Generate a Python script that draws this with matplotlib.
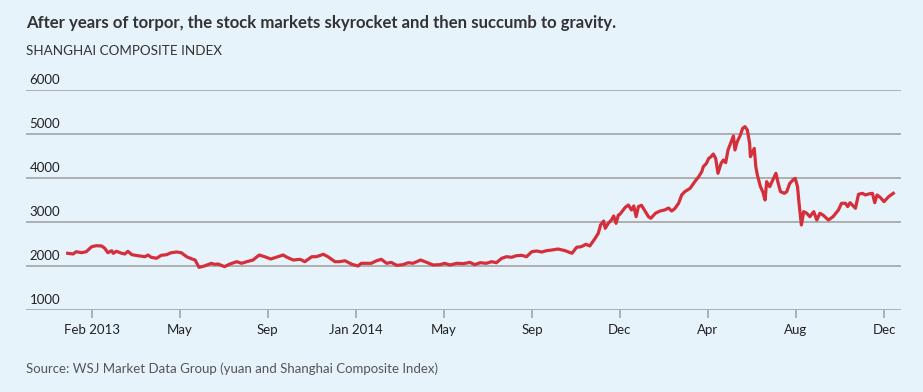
import numpy as np
import pandas as pd
import matplotlib
matplotlib.use("Agg")
import matplotlib.pyplot as plt

# Shanghai Composite Index
# days counted from the first session shown (4 Jan 2013)
start = pd.Timestamp("2013-01-04")
days = [0, 7, 11, 18, 24, 31, 37, 44, 48, 52, 57, 59, 63, 70, 74, 78, 83, 91, 100, 104,
        108, 115, 121, 128, 134, 141, 147, 154, 160, 165, 170, 177, 186, 190, 195, 203, 210, 219,
        225, 232, 240, 248, 255, 263, 272, 279, 284, 292, 301, 307, 316, 322, 331, 337, 346,
        352, 359, 368, 376, 380, 393, 400, 406, 413, 419, 426, 434, 441, 447, 457, 465, 473,
        482, 488, 495, 504, 512, 521, 527, 534, 542, 549, 555, 562, 568, 575, 581, 588, 594,
        601, 607, 614, 620, 627, 635, 644, 653, 659, 665, 671, 676, 683, 687, 690, 694, 696,
        700, 704, 707, 710, 713, 715, 722, 726, 730, 733, 736, 739, 743, 748, 752, 755, 761,
        767, 773, 778, 782, 786, 791, 795, 799, 806, 812, 817, 821, 823, 827, 830, 833, 836,
        839, 842, 846, 849, 852, 855, 860, 862, 864, 867, 871, 874, 877, 880, 883, 884, 887,
        889, 891, 893, 897, 900, 903, 905, 909, 913, 917, 920, 923, 928, 931, 935, 940, 942,
        945, 947, 950, 953, 957, 961, 966, 970, 974, 978, 985, 991, 998, 1002, 1007, 1010,
        1013, 1020, 1024, 1029, 1033, 1037, 1042, 1045, 1048, 1052, 1057, 1063, 1069]
index = [2289, 2273, 2325, 2302, 2325, 2439, 2461, 2455, 2402, 2302, 2348, 2289, 2334, 2289,
         2273, 2334, 2257, 2234, 2211, 2250, 2198, 2175, 2243, 2257, 2302, 2318, 2302, 2211,
         2166, 2136, 1970, 2000, 2061, 2038, 2045, 1985, 2045, 2098, 2061, 2098, 2136, 2250,
         2211, 2159, 2211, 2250, 2198, 2136, 2152, 2098, 2211, 2211, 2266, 2211, 2098, 2098,
         2120, 2038, 2000, 2061, 2061, 2120, 2152, 2061, 2082, 2015, 2030, 2075, 2061, 2136,
         2082, 2023, 2030, 2061, 2023, 2061, 2053, 2082, 2030, 2075, 2061, 2098, 2075, 2175,
         2211, 2198, 2234, 2243, 2211, 2325, 2341, 2318, 2348, 2364, 2386, 2348, 2289, 2425,
         2439, 2493, 2455, 2630, 2743, 2932, 3023, 2857, 2970, 3045, 3136, 2970, 3159, 3175,
         3334, 3386, 3273, 3364, 3121, 3350, 3380, 3236, 3121, 3084, 3198, 3250, 3273, 3318,
         3250, 3303, 3425, 3614, 3689, 3766, 3917, 4030, 4143, 4257, 4332, 4445, 4484, 4545,
         4445, 4107, 4332, 4409, 4348, 4636, 4864, 4955, 4636, 4827, 4977, 5129, 5167, 5091,
         4788, 4484, 4598, 4673, 4257, 4068, 3803, 3689, 3500, 3917, 3803, 3955, 4107, 3879,
         3689, 3652, 3689, 3879, 3970, 3992, 3803, 3425, 2932, 3236, 3198, 3121, 3236, 3045,
         3198, 3159, 3045, 3121, 3273, 3425, 3425, 3350, 3439, 3312, 3630, 3652, 3614, 3636,
         3652, 3439, 3614, 3561, 3463, 3576, 3652]

tick_days = [31, 145, 259, 373, 487, 601, 715, 829, 943, 1057]
tick_labels = ["Feb 2013", "May", "Sep", "Jan 2014", "May", "Sep", "Dec", "Apr", "Aug", "Dec"]
y_ticks = [1000, 2000, 3000, 4000, 5000, 6000]

bg = "#e7f3fb"
grid_col = "#a3a3a3"
red = "#d42f3b"

plt.rcParams["font.family"] = ["Lato", "DejaVu Sans"]

dates = start + pd.to_timedelta(days, unit="D")
tick_dates = start + pd.to_timedelta(tick_days, unit="D")

fig = plt.figure(figsize=(9.23, 3.92), dpi=100, facecolor=bg)
ax = fig.add_axes([26 / 923, 1 - 310 / 392, 875 / 923, 220 / 392])
ax.set_facecolor(bg)

for v in y_ticks:
    ax.axhline(v, color=grid_col, lw=1.2, zorder=1)
    ax.text(0.004, v + 90, str(v), transform=ax.get_yaxis_transform(),
            ha="left", va="bottom", fontsize=9.5, color="#222222")

ax.plot(dates, index, color=red, lw=2.3, solid_joinstyle="round", zorder=3)

ax.set_ylim(1000, 6000)
ax.set_xlim(start - pd.Timedelta(days=54), start + pd.Timedelta(days=1079))
ax.set_yticks([])
ax.set_xticks(tick_dates)
ax.set_xticklabels(tick_labels, fontsize=9.5, color="#222222")
ax.tick_params(axis="x", length=6, width=1.2, color=grid_col, pad=4)
for s in ax.spines.values():
    s.set_visible(False)

fig.text(26 / 923, 1 - 23 / 392, "After years of torpor, the stock markets skyrocket and then succumb to gravity.",
         ha="left", va="center", fontsize=12.1, fontweight="bold", color="#333333")
fig.text(26 / 923, 1 - 51 / 392, "SHANGHAI COMPOSITE INDEX",
         ha="left", va="center", fontsize=9.7, color="#333333")
fig.text(26 / 923, 1 - 369 / 392, "Source: WSJ Market Data Group (yuan and Shanghai Composite Index)",
         ha="left", va="center", fontsize=9.5, color="#555555")

fig.savefig("out.png", dpi=100, facecolor=bg)
